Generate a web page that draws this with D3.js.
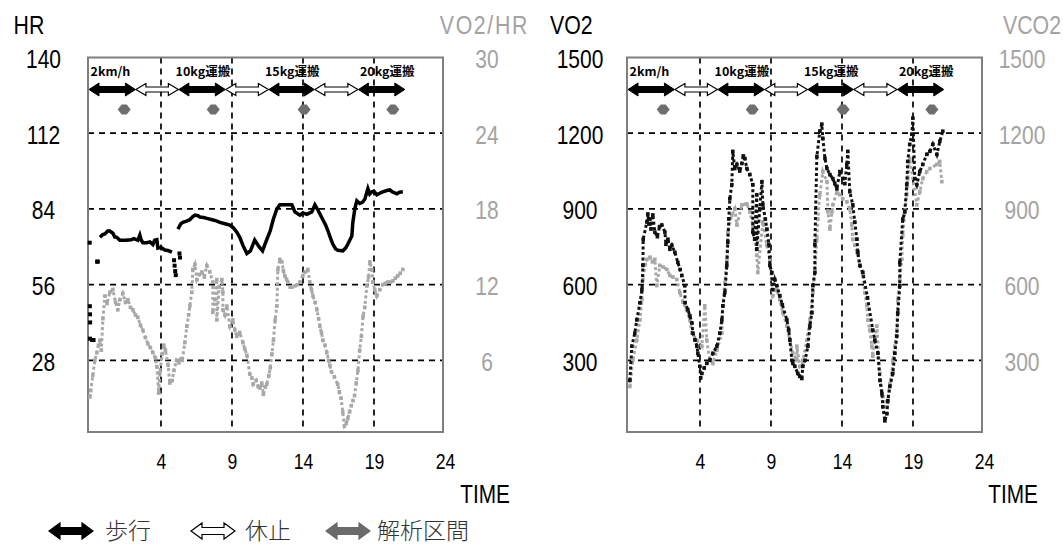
<!DOCTYPE html>
<html><head><meta charset="utf-8">
<script src="https://cdn.jsdelivr.net/npm/d3@7"></script>
<style>
body{margin:0;background:#fff}
svg{display:block}
</style>
</head><body>
<svg id="c" width="1063" height="546"></svg>
<script>
// ---------------- DATA ----------------
const xTicks = [4, 9, 14, 19, 24];
const hrTicks = [28, 56, 84, 112, 140];
const vo2hrTicks = [6, 12, 18, 24, 30];
const vo2Ticks = [300, 600, 900, 1200, 1500];
const vco2Ticks = [300, 600, 900, 1200, 1500];
const gridTimes = [4, 9, 14, 19];

const phaseBounds = [-1.14, 2.2, 5.26, 8.53, 11.6, 14.8, 17.9, 21.17];
const phaseKinds = ["walk", "rest", "walk", "rest", "walk", "rest", "walk"];
const taskLabels = ["2km/h", "10kg運搬", "15kg運搬", "20kg運搬"];
const taskLabelTimes = [-0.96, 5.03, 11.32, 18.01];
const analysisTimes = [1.41, 7.68, 14.08, 20.33];
const legendLabels = ["歩行", "休止", "解析区間"];

// HR (left axis, left chart)
const hrScatter = [[-1.01,48],[-1.0,45],[-0.99,42],[-1.0,36],[-0.85,35.5],[-0.75,35.5],[-1.02,71.5],[-0.45,64.5],[-0.5,64.5],
  [4.92,65],[4.96,63],[5.0,61],[5.04,59.5],[5.3,67.5],[5.34,66]];
const hrSeg1 = [[-0.30,73.5],[-0.1,74.5],[0.05,74.7],[0.25,75.8],[0.40,75.8],[0.61,75.0],[0.75,73.6],[0.89,73.5],[1.10,72.4],[1.5,72.4],[1.9,72.6],[2.1,73.0],[2.37,72.4],[2.51,74.3],[2.6,72.6],[2.72,71.5],[3.0,71.5],[3.22,71.8],[3.43,70.8],[3.55,72.4],[3.71,72.6],[3.78,69.5],[4.0,69.8],[4.27,68.8],[4.5,68.6],[4.77,68.0]];
const hrSeg2 = [[5.19,76.5],[5.4,78.5],[5.54,79],[5.8,79.5],[6.03,80],[6.2,81],[6.39,81.7],[6.6,81.5],[6.74,81],[7.0,80.8],[7.23,80.5],[7.6,80],[7.9,79.6],[8.15,79],[8.5,78.5],[8.85,78],[9.1,77],[9.34,75.4],[9.55,73.5],[9.77,70.5],[10.05,67.5],[10.3,68.5],[10.6,72.5],[10.9,70],[11.15,68.5],[11.4,72],[11.7,76],[11.9,80],[12.16,84],[12.37,85.5],[12.8,85.5],[13.22,85.5],[13.43,82.9],[13.78,81.7],[14.0,82.5],[14.27,82],[14.62,82.9],[14.84,85.5],[15.05,83.6],[15.40,80],[15.6,78],[15.75,76],[15.95,73],[16.10,71],[16.3,69.2],[16.46,68.7],[16.81,68.5],[17.0,69.5],[17.16,71],[17.44,74],[17.51,79],[17.65,84],[17.79,87],[18.0,86],[18.2,86.5],[18.36,87.7],[18.57,91.5],[18.7,89.5],[18.85,90.3],[19.0,90.5],[19.20,89.2],[19.4,89.8],[19.62,90.3],[19.9,90.8],[20.12,91],[20.3,90.3],[20.61,89.6],[20.8,90.2],[21.03,90.3]];

// VO2/HR (right axis, left chart)
const vo2hrData = [[-1.01,3.1],[-0.95,3.6],[-0.8,4.8],[-0.66,6.0],[-0.52,6.6],[-0.40,7.2],[-0.30,7.6],[-0.2,6.8],[-0.09,9.3],[0.05,11.1],[0.2,10.5],[0.40,11.4],[0.61,11.6],[0.8,10.6],[0.96,10.0],[1.1,10.8],[1.31,11.3],[1.5,10.6],[1.67,10.8],[1.85,10.2],[2.02,10.0],[2.2,9.6],[2.37,9.4],[2.55,8.8],[2.72,8.4],[2.9,7.8],[3.08,7.3],[3.25,7.0],[3.43,6.6],[3.6,6.2],[3.71,5.5],[3.84,3.4],[3.92,5.0],[4.08,6.5],[4.2,7.2],[4.31,6.8],[4.5,5.6],[4.62,4.2],[4.79,4.4],[4.91,5.2],[5.1,6.0],[5.26,5.8],[5.40,6.1],[5.50,6.0],[5.68,7.4],[5.82,8.7],[5.95,9.6],[6.03,10.3],[6.17,11.4],[6.24,13.2],[6.39,13.6],[6.53,12.4],[6.7,12.8],[6.88,13.0],[7.05,12.6],[7.23,13.5],[7.44,13.0],[7.65,12.2],[7.65,9.8],[7.8,10.8],[7.93,12.4],[7.93,9.2],[8.1,11.8],[8.29,12.4],[8.36,11.4],[8.36,10.0],[8.5,9.6],[8.64,10.3],[8.85,8.7],[9.06,9.2],[9.2,8.4],[9.34,7.9],[9.55,8.2],[9.77,7.4],[9.9,6.9],[10.05,6.4],[10.26,4.9],[10.4,4.6],[10.50,4.1],[10.7,4.4],[10.85,3.9],[10.97,3.8],[11.1,4.2],[11.21,3.3],[11.35,3.9],[11.45,4.1],[11.6,4.8],[11.69,5.4],[11.81,6.5],[11.92,7.6],[12.04,9.2],[12.16,10.3],[12.23,13.2],[12.37,14.0],[12.51,13.8],[12.62,13.1],[12.72,12.7],[12.85,12.4],[12.93,12.2],[13.1,11.8],[13.22,11.8],[13.43,11.9],[13.6,12.0],[13.78,12.2],[13.99,12.7],[14.15,13.0],[14.34,13.2],[14.48,12.2],[14.6,11.6],[14.70,11.1],[14.85,10.6],[14.98,10.0],[15.1,9.3],[15.19,8.7],[15.3,8.2],[15.40,7.6],[15.55,7.2],[15.68,6.6],[15.8,6.0],[15.89,5.6],[16.0,5.1],[16.21,4.7],[16.44,4.1],[16.56,3.5],[16.68,3.0],[16.80,1.9],[16.92,0.8],[17.05,1.0],[17.16,1.4],[17.28,1.9],[17.40,2.4],[17.52,2.8],[17.63,3.2],[17.75,4.2],[17.87,5.2],[17.99,6.8],[18.11,7.9],[18.23,9.5],[18.35,10.2],[18.50,11.9],[18.62,12.6],[18.71,13.8],[18.85,13.2],[18.92,12.2],[19.05,11.6],[19.20,11.1],[19.41,11.6],[19.62,12.0],[19.8,12.1],[19.98,12.2],[20.15,12.2],[20.33,12.3],[20.5,12.5],[20.68,12.7],[20.85,12.9],[21.03,13.2]];

// VO2 (left axis, right chart)
const vo2Data = [[-0.94,220],[-0.80,356],[-0.59,408],[-0.45,460],[-0.23,528],[-0.09,580],[-0.02,676],[0.0,780],[0.26,848],[0.33,880],[0.40,840],[0.47,860],[0.55,820],[0.68,876],[0.82,808],[1.0,790],[1.15,830],[1.31,836],[1.53,808],[1.60,760],[1.74,780],[1.88,740],[2.02,756],[2.23,728],[2.44,688],[2.60,660],[2.72,636],[2.93,596],[2.95,528],[3.15,500],[3.29,476],[3.43,448],[3.50,408],[3.65,380],[3.78,356],[3.85,328],[3.99,276],[4.05,230],[4.13,248],[4.30,270],[4.48,288],[4.69,300],[4.91,328],[5.19,356],[5.40,408],[5.54,460],[5.61,516],[5.75,568],[5.89,676],[5.96,768],[6.03,860],[6.10,940],[6.24,996],[6.31,1128],[6.45,1060],[6.60,1076],[6.80,1050],[6.95,1080],[7.05,1110],[7.16,1100],[7.30,1060],[7.51,1036],[7.72,996],[7.72,808],[7.85,780],[8.00,956],[8.00,740],[8.21,900],[8.36,1008],[8.43,916],[8.60,860],[8.71,820],[8.85,760],[8.92,676],[9.06,648],[9.13,580],[9.27,620],[9.41,596],[9.62,556],[9.80,520],[10.12,460],[10.25,420],[10.33,380],[10.47,300],[10.54,288],[10.68,276],[10.89,248],[11.03,236],[11.17,228],[11.24,276],[11.40,300],[11.60,356],[11.74,436],[11.88,488],[11.95,596],[12.09,648],[12.09,760],[12.23,1108],[12.44,1208],[12.58,1236],[12.65,1180],[12.80,1100],[12.94,1060],[13.15,1036],[13.36,1020],[13.50,1000],[13.64,980],[13.85,1048],[14.06,1020],[14.20,1000],[14.34,1076],[14.41,1128],[14.55,968],[14.76,916],[14.90,848],[15.05,780],[15.12,728],[15.26,676],[15.47,648],[15.8,548],[16.17,420],[16.31,380],[16.53,328],[16.67,220],[16.81,168],[16.88,116],[17.02,60],[17.16,88],[17.23,140],[17.37,196],[17.58,248],[17.72,328],[17.86,396],[17.93,488],[18.07,596],[18.07,688],[18.28,860],[18.42,888],[18.56,996],[18.63,1088],[18.77,1156],[18.92,1196],[18.99,1260],[19.13,1020],[19.27,996],[19.48,1048],[19.69,1076],[19.97,1116],[20.19,1128],[20.40,1156],[20.68,1116],[20.89,1168],[21.10,1208]];

// VCO2 (right axis, right chart)
const vco2Data = [[-0.94,196],[-0.73,300],[-0.45,380],[-0.23,460],[-0.09,540],[-0.02,620],[0.15,680],[0.26,700],[0.47,708],[0.65,690],[0.82,700],[0.96,596],[1.17,676],[1.40,670],[1.67,660],[1.88,636],[2.10,630],[2.37,620],[2.58,568],[2.80,530],[3.05,500],[3.29,460],[3.43,408],[3.78,380],[4.13,356],[4.34,516],[4.48,380],[4.69,300],[4.91,288],[5.19,340],[5.54,408],[5.61,516],[5.75,608],[5.89,700],[5.96,808],[6.24,876],[6.45,900],[6.60,836],[6.95,916],[7.30,920],[7.51,888],[7.72,836],[8.00,716],[8.07,648],[8.43,848],[8.71,756],[8.92,700],[9.13,556],[9.41,580],[9.62,540],[9.84,488],[10.12,436],[10.33,380],[10.54,328],[10.82,300],[10.82,356],[11.03,276],[11.24,288],[11.24,300],[11.53,380],[11.74,460],[11.95,568],[12.09,660],[12.23,780],[12.30,860],[12.44,956],[12.65,1048],[12.94,1008],[13.01,888],[13.15,820],[13.29,888],[13.36,916],[13.64,968],[13.85,956],[14.06,940],[14.34,928],[14.55,900],[14.69,836],[14.76,780],[14.90,756],[15.05,728],[15.26,676],[15.47,636],[15.61,568],[15.75,516],[15.82,460],[15.96,420],[16.10,356],[16.17,316],[16.45,436],[16.67,248],[16.88,156],[17.16,116],[17.37,208],[17.51,248],[17.58,300],[17.72,356],[17.86,420],[17.93,540],[18.07,620],[18.21,700],[18.28,796],[18.42,888],[18.56,956],[18.63,1020],[18.77,1100],[19.27,916],[19.48,968],[19.69,1020],[19.97,1048],[20.19,1060],[20.68,1076],[20.89,1088],[21.03,1008]];

// ---------------- DRAWING ----------------
const svg = d3.select("#c");
svg.append("rect").attr("width", 1063).attr("height", 546).attr("fill", "#fff");

const NUM_FONT = "'Liberation Sans', Arial, sans-serif";
const JP_FONT = "'Noto Sans CJK JP', sans-serif";
const GRAY_TXT = "#a3a3a3";
const TOP = 57.5, BOTTOM = 432, ZERO = 436;
const fmt = d3.format("d");

function sText(g, x, y, str, size, sx, anchor, fill, extra) {
  const t = g.append("text")
    .attr("transform", `translate(${x},${y}) scale(${sx},1)`)
    .attr("text-anchor", anchor).attr("font-family", NUM_FONT)
    .attr("font-size", size).attr("fill", fill).text(str);
  if (extra) extra(t);
  return t;
}

function dblArrow(x0, x1, cy, shaft, head, hl) {
  const s = shaft / 2, h = head / 2;
  return `M${x0},${cy}L${x0+hl},${cy-h}L${x0+hl},${cy-s}L${x1-hl},${cy-s}L${x1-hl},${cy-h}L${x1},${cy}L${x1-hl},${cy+h}L${x1-hl},${cy+s}L${x0+hl},${cy+s}L${x0+hl},${cy+h}Z`;
}

function drawPanel(p) {
  const g = svg.append("g");
  const x = d3.scaleLinear().domain([-1.14, 23.86]).range([p.x0, p.x1]);
  const yL = d3.scaleLinear().domain([0, p.leftTicks[p.leftTicks.length - 1]]).range([ZERO, TOP]);
  const yR = d3.scaleLinear().domain([0, p.rightTicks[p.rightTicks.length - 1]]).range([ZERO, TOP]);

  // grid
  const grid = g.append("g").attr("stroke", "#000").attr("stroke-width", 1.7).attr("stroke-dasharray", "6,5");
  grid.selectAll("line.h").data(p.leftTicks.slice(0, -1)).join("line")
    .attr("x1", p.x0).attr("x2", p.x1).attr("y1", d => yL(d)).attr("y2", d => yL(d));
  grid.selectAll("line.v").data(gridTimes).join("line")
    .attr("x1", d => x(d)).attr("x2", d => x(d)).attr("y1", TOP).attr("y2", BOTTOM);

  // box
  g.append("rect").attr("x", p.x0).attr("y", TOP).attr("width", p.x1 - p.x0).attr("height", BOTTOM - TOP)
    .attr("fill", "none").attr("stroke", "#7f7f7f").attr("stroke-width", 2);

  // data
  p.drawData(g, x, yL, yR);

  // task arrows
  const cy = 89.5;
  phaseKinds.forEach((k, i) => {
    const x0 = Math.max(p.x0 + 1, x(phaseBounds[i])), x1 = x(phaseBounds[i + 1]);
    if (k === "walk") {
      g.append("path").attr("d", dblArrow(x0, x1, cy, 6, 13, 10)).attr("fill", "#000").attr("stroke", "#000").attr("stroke-width", 1);
    } else {
      g.append("path").attr("d", dblArrow(x0 + 0.5, x1 - 0.5, cy, 5, 12, 10)).attr("fill", "#fff").attr("stroke", "#000").attr("stroke-width", 1.2);
    }
  });
  taskLabels.forEach((s, i) => {
    g.append("text").attr("x", x(taskLabelTimes[i])).attr("y", 76)
      .attr("font-family", JP_FONT).attr("font-weight", "bold").attr("font-size", 12.5)
      .attr("fill", "#000").text(s);
  });
  g.selectAll("path.dia").data(analysisTimes).join("path")
    .attr("transform", d => `translate(${x(d)},109.5)`)
    .attr("d", "M-6.5,0L-2.5,-5L2.5,-5L6.5,0L2.5,5L-2.5,5Z").attr("fill", "#6e6e6e");

  // axes (tick labels only)
  const ax = g.append("g").attr("transform", "translate(0,469)")
    .call(d3.axisBottom(x).tickValues(xTicks).tickFormat(fmt).tickSize(0));
  ax.select(".domain").remove();
  ax.attr("font-family", NUM_FONT).attr("font-size", 22);
  ax.selectAll(".tick text").attr("y", 0).attr("dy", 0).attr("fill", "#000")
    .attr("transform", "scale(0.8,1)");

  const ayL = g.append("g").attr("transform", `translate(${p.leftLabelX},0)`)
    .call(d3.axisLeft(yL).tickValues(p.leftTicks).tickFormat(fmt).tickSize(0));
  ayL.select(".domain").remove();
  ayL.attr("font-family", NUM_FONT).attr("font-size", 25).attr("text-anchor", "middle");
  ayL.selectAll(".tick text").attr("x", 0).attr("y", 0).attr("dy", 0).attr("fill", "#000")
    .attr("transform", "translate(0,10) scale(0.84,1)");

  const ayR = g.append("g").attr("transform", `translate(${p.rightLabelX},0)`)
    .call(d3.axisRight(yR).tickValues(p.rightTicks).tickFormat(fmt).tickSize(0));
  ayR.select(".domain").remove();
  ayR.attr("font-family", NUM_FONT).attr("font-size", 25).attr("text-anchor", "middle");
  ayR.selectAll(".tick text").attr("x", 0).attr("y", 0).attr("dy", 0).attr("fill", GRAY_TXT)
    .attr("transform", "translate(0,10) scale(0.84,1)");

  // titles
  sText(g, p.leftTitleX, 34, p.leftTitle, 26, 0.82, "start", "#000");
  sText(g, p.rightTitleX, 34, p.rightTitle, 26, 0.82, p.rightTitleAnchor, GRAY_TXT,
        t => t.attr("letter-spacing", p.rightTitleSpacing));
  sText(g, p.timeX, 503, "TIME", 26, 0.8, "end", "#000");
}

function dotted(g, data, x, y, color) {
  const sorted = data.slice().sort((a, b) => a[0] - b[0]);
  g.append("path").datum(sorted)
    .attr("d", d3.line().x(d => x(d[0])).y(d => y(d[1])))
    .attr("fill", "none").attr("stroke", color).attr("stroke-width", 3)
    .attr("stroke-dasharray", "3,2.5");
  g.selectAll(null).data(sorted).join("rect")
    .attr("x", d => x(d[0]) - 1.8).attr("y", d => y(d[1]) - 1.8)
    .attr("width", 3.6).attr("height", 3.6).attr("fill", color);
}

// Left chart: HR & VO2/HR
drawPanel({
  x0: 88, x1: 443,
  leftTicks: hrTicks, rightTicks: vo2hrTicks,
  leftLabelX: 43.5, rightLabelX: 487,
  leftTitle: "HR", leftTitleX: 13.5,
  rightTitle: "VO2/HR", rightTitleX: 529, rightTitleAnchor: "end", rightTitleSpacing: 2,
  timeX: 510,
  drawData(g, x, yL, yR) {
    dotted(g, vo2hrData, x, yR, "#a8a8a8");
    const line = d3.line().x(d => x(d[0])).y(d => yL(d[1]));
    [hrSeg1, hrSeg2].forEach(seg => {
      g.append("path").datum(seg).attr("d", line).attr("fill", "none")
        .attr("stroke", "#000").attr("stroke-width", 3.5).attr("stroke-linejoin", "miter");
    });
    g.selectAll(null).data(hrScatter).join("rect")
      .attr("x", d => x(d[0]) - 2).attr("y", d => yL(d[1]) - 2)
      .attr("width", 4).attr("height", 4).attr("fill", "#000");
  }
});

// Right chart: VO2 & VCO2
drawPanel({
  x0: 627, x1: 982,
  leftTicks: vo2Ticks, rightTicks: vco2Ticks,
  leftLabelX: 580, rightLabelX: 1022,
  leftTitle: "VO2", leftTitleX: 550,
  rightTitle: "VCO2", rightTitleX: 1003, rightTitleAnchor: "start", rightTitleSpacing: 0,
  timeX: 1038,
  drawData(g, x, yL, yR) {
    dotted(g, vco2Data, x, yR, "#a8a8a8");
    dotted(g, vo2Data, x, yL, "#111");
  }
});

// Legend
const legendArrowX = [[49, 93], [191, 235], [326, 370]];
const legendTextX = [105, 245, 377];
const legendFill = ["#000", "#fff", "#6b6b6b"];
const legendStroke = ["#000", "#000", "#6b6b6b"];
legendLabels.forEach((s, i) => {
  svg.append("path").attr("d", dblArrow(legendArrowX[i][0], legendArrowX[i][1], 531, 7, 16, 11))
    .attr("fill", legendFill[i]).attr("stroke", legendStroke[i]).attr("stroke-width", 1.2);
  svg.append("text").attr("x", legendTextX[i]).attr("y", 539)
    .attr("font-family", JP_FONT).attr("font-weight", 300).attr("font-size", 23)
    .attr("fill", "#333").text(s);
});
</script>
</body></html>
